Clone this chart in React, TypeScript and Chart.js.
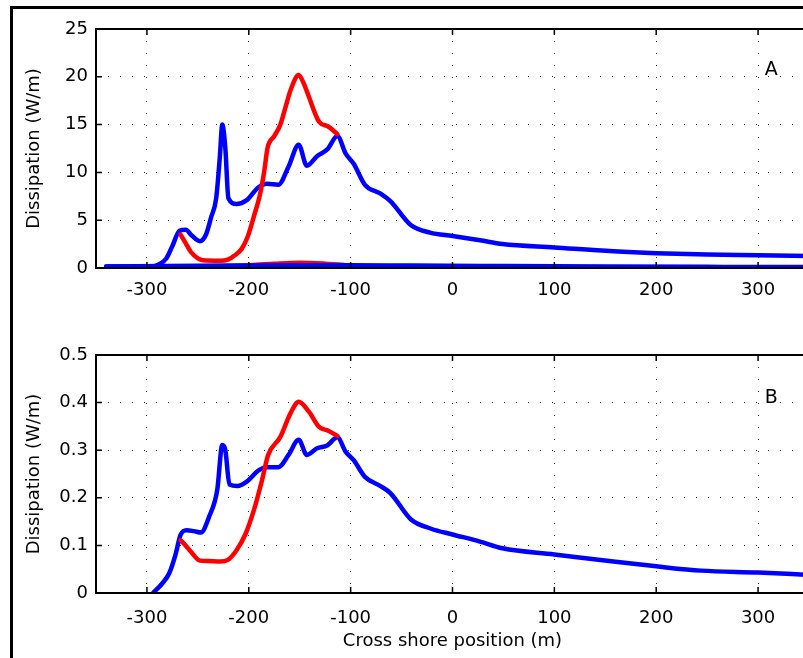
import React, { useEffect, useRef } from 'react';
import { Chart, registerables } from 'chart.js';

Chart.register(...registerables);

const FONT = "'DejaVu Sans', 'Liberation Sans', Arial, sans-serif";

const xTicks = [-300, -200, -100, 0, 100, 200, 300];
const yTicksA = [0, 5, 10, 15, 20, 25];
const yTicksB = [0, 0.1, 0.2, 0.3, 0.4, 0.5];

// Panel A — blue (main)
const aBlueX = [-340, -295, -288, -281, -275, -268, -262, -256, -248, -242, -237, -232, -228.5, -226, -223, -220, -212, -202, -191, -182, -171, -161, -151, -143, -133, -123, -113, -105, -97, -86, -71, -61, -41, -22, 0, 27, 49, 100, 158, 200, 250, 300, 350];
const aBlueY = [0.15, 0.15, 0.4, 1.0, 2.3, 3.9, 4.0, 3.4, 2.8, 3.5, 5.3, 7.3, 11.5, 15.0, 12.5, 7.3, 6.7, 7.1, 8.4, 8.8, 8.7, 10.6, 12.9, 10.7, 11.7, 12.4, 13.8, 12.0, 10.9, 8.7, 7.8, 7.0, 4.5, 3.7, 3.35, 2.9, 2.5, 2.15, 1.75, 1.55, 1.4, 1.33, 1.25];

// Panel A — red (main)
const aRedX = [-267, -262, -257, -250, -245, -228, -220, -214, -207, -201, -195, -189, -185, -181.5, -175, -169, -164, -159, -151, -146, -142, -131, -122, -113];
const aRedY = [3.5, 2.6, 1.7, 1.0, 0.8, 0.75, 0.9, 1.3, 2.0, 3.3, 5.4, 7.7, 10.0, 12.6, 13.8, 15.0, 16.8, 18.6, 20.2, 19.3, 18.2, 15.3, 14.8, 14.0];

// Panel A — near-zero series
const aLowBlueX = [-340, -280, -220, -160, -100, -40, 50, 150, 250, 350];
const aLowBlueY = [0.15, 0.2, 0.25, 0.3, 0.3, 0.25, 0.2, 0.15, 0.12, 0.1];
const aLowRedX = [-240, -200, -175, -150, -125, -105, -90];
const aLowRedY = [0.1, 0.3, 0.45, 0.55, 0.45, 0.3, 0.2];

// Panel B — blue
const bBlueX = [-294, -285, -278, -272, -267, -261, -254, -247, -239, -231, -226, -223, -219, -211, -202, -190, -182, -171, -161, -151, -143, -133, -123, -113, -105, -97, -86, -71, -61, -41, -21, 0, 27, 49, 100, 158, 200, 244, 300, 350];
const bBlueY = [0.0, 0.02, 0.042, 0.08, 0.122, 0.132, 0.13, 0.127, 0.16, 0.216, 0.311, 0.3, 0.228, 0.225, 0.234, 0.258, 0.264, 0.264, 0.29, 0.322, 0.29, 0.304, 0.31, 0.327, 0.297, 0.279, 0.244, 0.225, 0.21, 0.155, 0.135, 0.123, 0.108, 0.094, 0.081, 0.066, 0.056, 0.047, 0.043, 0.038];

// Panel B — red
const bRedX = [-267, -262, -257, -248, -240, -228, -221, -212, -203, -195, -187, -181, -169, -159, -151, -141, -131, -122, -113];
const bRedY = [0.111, 0.1, 0.087, 0.068, 0.067, 0.066, 0.069, 0.09, 0.125, 0.174, 0.237, 0.29, 0.328, 0.378, 0.402, 0.381, 0.349, 0.341, 0.33];

const BLUE = '#0000ff';
const RED = '#ff0000';

function pts(xs: number[], ys: number[]) {
  return xs.map((x, i) => ({ x, y: ys[i] }));
}

const framePlugin = {
  id: 'frame',
  afterDatasetsDraw(chart: any, _args: any, opts: any) {
    const { ctx, chartArea: a, scales } = chart;
    ctx.save();
    ctx.strokeStyle = '#000';
    ctx.lineWidth = 2;
    ctx.strokeRect(a.left, a.top, a.right - a.left, a.bottom - a.top);
    ctx.lineWidth = 1.5;
    ctx.beginPath();
    for (const v of opts.xTicks) {
      const px = scales.x.getPixelForValue(v);
      ctx.moveTo(px, a.bottom);
      ctx.lineTo(px, a.bottom - 6);
      ctx.moveTo(px, a.top);
      ctx.lineTo(px, a.top + 6);
    }
    for (const v of opts.yTicks) {
      const py = scales.y.getPixelForValue(v);
      ctx.moveTo(a.left, py);
      ctx.lineTo(a.left + 6, py);
      ctx.moveTo(a.right, py);
      ctx.lineTo(a.right - 6, py);
    }
    ctx.stroke();
    ctx.fillStyle = '#000';
    ctx.font = `19px ${FONT}`;
    ctx.textAlign = 'center';
    ctx.textBaseline = 'middle';
    ctx.fillText(opts.label, scales.x.getPixelForValue(opts.labelX), scales.y.getPixelForValue(opts.labelY));
    ctx.restore();
  },
};

function lineDs(data: { x: number; y: number }[], color: string) {
  return {
    data,
    borderColor: color,
    backgroundColor: color,
    borderWidth: 4.5,
    pointRadius: 0,
    fill: false,
    cubicInterpolationMode: 'monotone' as const,
    borderJoinStyle: 'round' as const,
    borderCapStyle: 'round' as const,
  };
}

function makeConfig(panel: 'A' | 'B') {
  const isA = panel === 'A';
  const yTicks = isA ? yTicksA : yTicksB;
  const datasets = isA
    ? [
        lineDs(pts(aRedX, aRedY), RED),
        lineDs(pts(aBlueX, aBlueY), BLUE),
        lineDs(pts(aLowBlueX, aLowBlueY), BLUE),
        lineDs(pts(aLowRedX, aLowRedY), RED),
      ]
    : [lineDs(pts(bRedX, bRedY), RED), lineDs(pts(bBlueX, bBlueY), BLUE)];
  return {
    type: 'line' as const,
    data: { datasets },
    plugins: [framePlugin],
    options: {
      animation: false as const,
      responsive: false,
      devicePixelRatio: 1,
      layout: { padding: { top: isA ? 29 : 25, right: 21, left: 0, bottom: 0 } },
      plugins: {
        legend: { display: false },
        tooltip: { enabled: false },
        frame: {
          xTicks,
          yTicks,
          label: panel,
          labelX: 313,
          labelY: isA ? 20.7 : 0.41,
        },
      },
      scales: {
        x: {
          type: 'linear' as const,
          min: -350,
          max: 350,
          afterBuildTicks: (s: any) => {
            s.ticks = xTicks.map((v) => ({ value: v }));
          },
          afterFit: (s: any) => {
            s.height = isA ? 32 : 65;
          },
          grid: { color: '#333', lineWidth: 1, drawTicks: false },
          border: { display: false, dash: [1, 11] },
          ticks: {
            padding: isA ? 12 : 15,
            color: '#000',
            font: { family: FONT, size: 18 },
            maxRotation: 0,
            autoSkip: false,
            callback: (v: any) => String(v),
          },
          title: {
            display: !isA,
            text: 'Cross shore position (m)',
            color: '#000',
            font: { family: FONT, size: 18 },
            padding: { top: 0, bottom: 6 },
          },
        },
        y: {
          type: 'linear' as const,
          min: 0,
          max: isA ? 25 : 0.5,
          afterBuildTicks: (s: any) => {
            s.ticks = yTicks.map((v) => ({ value: v }));
          },
          afterFit: (s: any) => {
            s.width = 96;
          },
          grid: { color: '#333', lineWidth: 1, drawTicks: false },
          border: { display: false, dash: [1, 11] },
          ticks: {
            padding: 8,
            color: '#000',
            font: { family: FONT, size: 18 },
            autoSkip: false,
            callback: (v: any) => String(v),
          },
          title: {
            display: true,
            text: 'Dissipation (W/m)',
            color: '#000',
            font: { family: FONT, size: 18 },
            padding: { top: 24, bottom: 0 },
          },
        },
      },
    },
  };
}

function Panel({ panel, top, height }: { panel: 'A' | 'B'; top: number; height: number }) {
  const ref = useRef<HTMLCanvasElement | null>(null);
  useEffect(() => {
    if (!ref.current) return;
    const chart = new Chart(ref.current, makeConfig(panel) as any);
    return () => chart.destroy();
  }, [panel]);
  return (
    <canvas
      ref={ref}
      width={830}
      height={height}
      style={{ position: 'absolute', left: 0, top, width: 830, height }}
    />
  );
}

export default function App() {
  return (
    <div
      style={{
        position: 'fixed',
        left: 0,
        top: 0,
        width: 803,
        height: 658,
        overflow: 'hidden',
        background: '#fff',
      }}
    >
      <Panel panel="A" top={0} height={300} />
      <Panel panel="B" top={330} height={328} />
      <div
        style={{
          position: 'absolute',
          left: 10,
          top: 6,
          width: 900,
          height: 900,
          borderLeft: '3px solid #000',
          borderTop: '3px solid #000',
          boxSizing: 'border-box',
        }}
      />
    </div>
  );
}
